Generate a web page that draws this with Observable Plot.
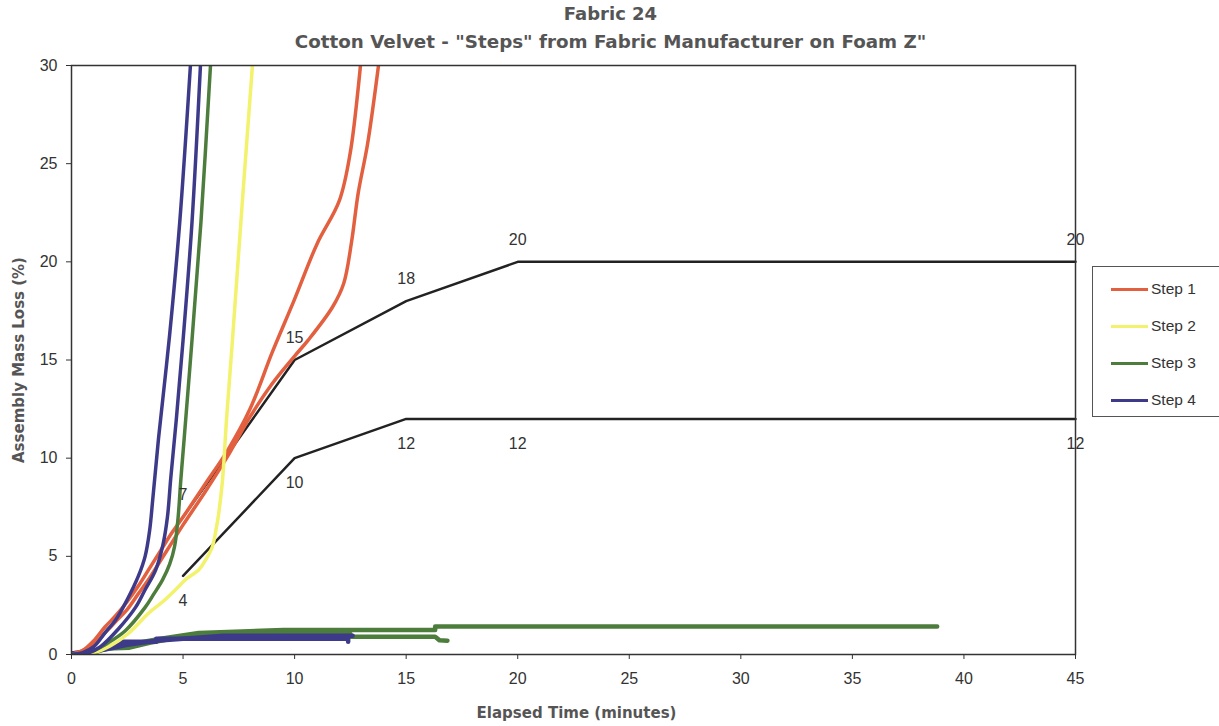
<!DOCTYPE html>
<html>
<head>
<meta charset="utf-8">
<script src="https://cdn.jsdelivr.net/npm/d3@7"></script>
<script src="https://cdn.jsdelivr.net/npm/@observablehq/plot@0.6"></script>
<style>
  html, body { margin: 0; padding: 0; background: #fff; overflow: hidden; }
  #wrap { position: relative; width: 1219px; height: 726px; }
  #legend { position: absolute; left: 1092px; top: 266px; width: 140px; height: 151px;
            border: 1px solid #555; box-sizing: border-box; background: #fff;
            font-family: "Liberation Sans", Arial, sans-serif; font-size: 15.5px; color: #333; }
  .item { position: absolute; left: 18px; height: 20px; display: flex; align-items: center; }
  .sw { width: 37px; height: 3px; margin-right: 3px; }
</style>
</head>
<body>
<div id="wrap"></div>
<script>
// ---- data ----
const xTicks = [0, 5, 10, 15, 20, 25, 30, 35, 40, 45];
const yTicks = [0, 5, 10, 15, 20, 25, 30];
const seriesNames = ["Step 1", "Step 2", "Step 3", "Step 4"];
const seriesColors = ["#e2603f", "#f3f26c", "#4d7d3c", "#3e3a8a"];

const step1a = [[0,0],[0.5,0.2],[1,0.7],[1.5,1.4],[2,2.0],[2.5,2.7],[3,3.5],[3.5,4.4],[4,5.3],[4.5,6.2],[5,7.0],[6,8.7],[7,10.4],[8,12.5],[9,15.4],[10,18.1],[11,20.9],[12,23.1],[12.5,25.6],[12.95,30]];
const step1b = [[0,0],[0.7,0.3],[1,0.5],[1.5,1.1],[2,1.7],[2.5,2.3],[3,3.1],[3.5,3.9],[4,4.8],[4.5,5.7],[5,6.6],[6,8.3],[7,10.1],[8,12.1],[9,13.8],[10,15.2],[10.6,16.0],[11.7,17.7],[12.2,18.9],[12.55,21.0],[12.85,23.5],[13.27,26.0],[13.76,30]];
const step2 = [[0,0],[1,0.1],[1.75,0.45],[2.55,1.07],[3.45,2.1],[4.1,2.7],[4.66,3.3],[5.2,3.9],[5.7,4.3],[6.0,4.8],[6.3,5.45],[6.5,6.5],[6.6,7.2],[6.77,8.9],[6.95,12],[7.2,15.8],[7.66,23.1],[8.11,30]];
const step3 = [[0,0],[1,0.2],[1.5,0.5],[2.4,1.2],[3.3,2.4],[3.7,3.1],[4.08,3.8],[4.4,4.6],[4.62,5.5],[4.78,7.0],[4.9,8.9],[5.05,11],[5.4,16],[5.8,22],[6.23,30]];
const step3lowA = [[0,0],[1,0.1],[1.6,0.3],[2.6,0.35],[3.5,0.6],[5.7,1.05],[12.5,1.05],[12.5,0.9],[16.3,0.9],[16.5,0.72],[16.85,0.7]];
const step3lowB = [[0,0],[2,0.4],[4,0.8],[5.7,1.1],[9.5,1.25],[16.3,1.25],[16.3,1.43],[38.8,1.43]];
const step4a = [[0,0],[0.5,0.1],[1,0.4],[1.5,1.1],[2,1.8],[2.5,2.8],[3,4.0],[3.3,5.0],[3.5,6.3],[3.65,8],[3.9,11],[4.4,16.3],[4.85,22],[5.33,30]];
const step4b = [[0,0],[0.8,0.1],[1.3,0.4],[2.1,1.3],[2.87,2.4],[3.3,3.3],[3.77,4.3],[4.1,5.6],[4.3,7.0],[4.45,9.0],[4.7,12],[5.0,16],[5.4,22],[5.78,30]];
const step4lowA = [[0,0.05],[0.8,0.15],[1.6,0.35],[2.3,0.65],[3.8,0.65],[3.8,0.8],[12.4,0.8],[12.4,0.65]];
const step4lowB = [[0,0.05],[1.5,0.25],[2.5,0.5],[3.8,0.7],[6.8,0.95],[12.6,0.95]];

const upperX = [5, 10, 15, 20, 45];
const upperY = [7, 15, 18, 20, 20];
const lowerX = [5, 10, 15, 20, 45];
const lowerY = [4, 10, 12, 12, 12];

const titleText = "Fabric 24";
const subtitleText = "Cotton Velvet - \"Steps\" from Fabric Manufacturer on Foam Z\"";
const xTitle = "Elapsed Time (minutes)";
const yTitle = "Assembly Mass Loss (%)";

// ---- build ----
const toPts = (arr) => arr.map(([x, y]) => ({x, y}));
const upper = upperX.map((x, i) => ({x, y: upperY[i], t: String(upperY[i])}));
const lower = lowerX.map((x, i) => ({x, y: lowerY[i], t: String(lowerY[i])}));

const colored = [
  [step1a, 0], [step1b, 0], [step2, 1], [step3, 2], [step4a, 3], [step4b, 3]
];
const lows = [[step3lowB, 2], [step3lowA, 2], [step4lowB, 3], [step4lowA, 3]];

const font = "'Liberation Sans', Arial, sans-serif";
const titleFont = "'DejaVu Sans', Verdana, sans-serif";

const chart = Plot.plot({
  width: 1219,
  height: 726,
  marginLeft: 71,
  marginRight: 144,
  marginTop: 65,
  marginBottom: 72,
  style: {fontFamily: font, fontSize: "16px", color: "#333", background: "#fff"},
  x: {domain: [0, 45], ticks: xTicks, label: null},
  y: {domain: [0, 30], ticks: yTicks, label: null},
  marks: [
    ...lows.map(([d, c]) => Plot.line(toPts(d), {x: "x", y: "y", stroke: seriesColors[c], strokeWidth: 4.5, clip: true})),
    Plot.line(toPts(upper.map(d => [d.x, d.y])), {x: "x", y: "y", stroke: "#222", strokeWidth: 2.5}),
    Plot.line(toPts(lower.map(d => [d.x, d.y])), {x: "x", y: "y", stroke: "#222", strokeWidth: 2.5}),
    ...colored.map(([d, c]) => Plot.line(toPts(d), {x: "x", y: "y", stroke: seriesColors[c], strokeWidth: 3.5, curve: "catmull-rom", clip: true})),
    Plot.text(upper, {x: "x", y: "y", text: "t", dy: -22, fontSize: 16, fill: "#333"}),
    Plot.text(lower, {x: "x", y: "y", text: "t", dy: 25, fontSize: 16, fill: "#333"}),
    Plot.axisX({ticks: xTicks, tickSize: 5, tickPadding: 13, fontSize: 16, fill: "#333", label: null}),
    Plot.axisY({ticks: yTicks, tickSize: 5, tickPadding: 9, fontSize: 16, fill: "#333", label: null}),
    Plot.frame({stroke: "#333", strokeWidth: 1.5}),
    Plot.text([titleText], {frameAnchor: "top", lineAnchor: "middle", dx: 37, dy: -51, fontFamily: titleFont, fontSize: 18, fontWeight: "bold", fill: "#555"}),
    Plot.text([subtitleText], {frameAnchor: "top", lineAnchor: "middle", dx: 37, dy: -23, fontFamily: titleFont, fontSize: 18.3, fontWeight: "bold", fill: "#555"}),
    Plot.text([xTitle], {frameAnchor: "bottom", lineAnchor: "middle", dx: 3, dy: 59, fontFamily: titleFont, fontSize: 15, fontWeight: "bold", fill: "#555"}),
    Plot.text([yTitle], {frameAnchor: "left", lineAnchor: "middle", textAnchor: "middle", dx: -52, rotate: -90, fontFamily: titleFont, fontSize: 15, fontWeight: "bold", fill: "#555"})
  ]
});

const wrap = document.getElementById("wrap");
wrap.appendChild(chart);

const legend = document.createElement("div");
legend.id = "legend";
seriesNames.forEach((name, i) => {
  const item = document.createElement("div");
  item.className = "item";
  item.style.top = (12 + i * 37) + "px";
  const sw = document.createElement("div");
  sw.className = "sw";
  sw.style.background = seriesColors[i];
  const lab = document.createElement("span");
  lab.textContent = name;
  item.appendChild(sw);
  item.appendChild(lab);
  legend.appendChild(item);
});
wrap.appendChild(legend);
</script>
</body>
</html>
